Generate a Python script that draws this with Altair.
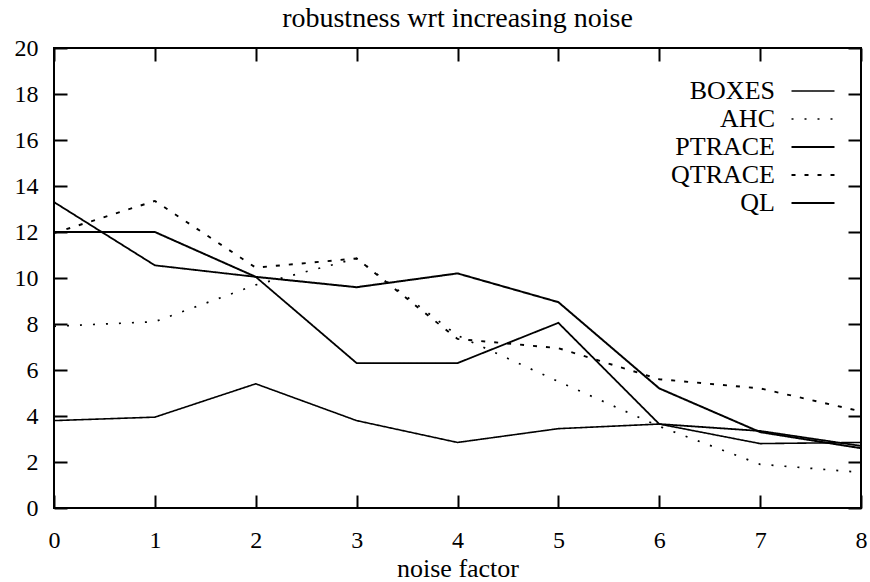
import altair as alt
import pandas as pd

# ---- data ----
noise = [0, 1, 2, 3, 4, 5, 6, 7, 8]
boxes = [3.8, 3.95, 5.4, 3.8, 2.85, 3.45, 3.65, 2.8, 2.85]
ahc = [7.9, 8.1, 9.7, 10.85, 7.5, 5.5, 3.55, 1.9, 1.55]
ptrace = [13.3, 10.55, 10.05, 6.3, 6.3, 8.05, 3.65, 3.35, 2.7]
qtrace = [11.95, 13.35, 10.45, 10.85, 7.35, 6.95, 5.6, 5.2, 4.2]
ql = [12.0, 12.0, 10.05, 9.6, 10.2, 8.95, 5.2, 3.3, 2.6]
series_names = ["BOXES", "AHC", "PTRACE", "QTRACE", "QL"]
x_ticks = [0, 1, 2, 3, 4, 5, 6, 7, 8]
y_ticks = [0, 2, 4, 6, 8, 10, 12, 14, 16, 18, 20]

values = {"BOXES": boxes, "AHC": ahc, "PTRACE": ptrace, "QTRACE": qtrace, "QL": ql}
rows = []
for name in series_names:
    for x, y in zip(noise, values[name]):
        rows.append({"series": name, "noise": x, "value": y})
df = pd.DataFrame(rows)

FONT = "Liberation Serif"

dash_range = [[1, 0], [2, 11], [1, 0], [4, 9], [1, 0]]
width_range = [1.6, 2, 2.4, 4, 4.2]

legend = alt.Legend(
    title=None, orient="none", legendX=746, legendY=30,
    symbolType="M-2,0H2", symbolSize=462, symbolStrokeColor="black",
    labelAlign="right", labelOffset=alt.ExprRef("-51"), labelFont=FONT,
    labelFontSize=26, labelColor="black", labelLimit=0, rowPadding=2, padding=0,
)

xscale = alt.Scale(domain=[0, 8], nice=False)
yscale = alt.Scale(domain=[0, 20], nice=False)
inward = alt.ExprRef("-13")

base = alt.Chart(df)

lines = base.mark_line(color="black", strokeCap="butt").encode(
    x=alt.X("noise:Q", scale=xscale,
            axis=alt.Axis(values=x_ticks, title="noise factor", orient="bottom",
                          tickSize=inward, labelPadding=33, grid=False,
                          labelFlush=False, titlePadding=3, titleFontSize=26)),
    y=alt.Y("value:Q", scale=yscale,
            axis=alt.Axis(values=y_ticks, title=None, orient="left",
                          tickSize=inward, labelPadding=29, grid=False,
                          labelFlush=False)),
    detail="series:N",
    strokeDash=alt.StrokeDash("series:N",
                              scale=alt.Scale(domain=series_names, range=dash_range),
                              sort=series_names, legend=legend),
    strokeWidth=alt.StrokeWidth("series:N",
                                scale=alt.Scale(domain=series_names, range=width_range),
                                sort=series_names, legend=legend),
)

mirror = base.mark_line(opacity=0).encode(
    x=alt.X("noise:Q", scale=xscale,
            axis=alt.Axis(values=x_ticks, title=None, orient="top", labels=False,
                          tickSize=inward, grid=False)),
    y=alt.Y("value:Q", scale=yscale,
            axis=alt.Axis(values=y_ticks, title=None, orient="right", labels=False,
                          tickSize=inward, grid=False)),
    detail="series:N",
)

chart = (
    alt.layer(lines, mirror)
    .resolve_axis(x="independent", y="independent")
    .properties(
        width=807, height=460,
        autosize=alt.AutoSizeParams(type="none"),
        padding={"left": 54, "top": 48, "right": 9, "bottom": 74},
        background="white",
        title=alt.TitleParams("robustness wrt increasing noise", font=FONT,
                              fontSize=28, fontWeight="normal", color="black",
                              anchor="middle", offset=3),
    )
    .configure_view(stroke="black", strokeWidth=2)
    .configure_axis(
        domain=False, tickColor="black", tickWidth=2,
        labelFont=FONT, labelFontSize=24, labelColor="black",
        titleFont=FONT, titleFontSize=26, titleColor="black",
        titleFontWeight="normal",
    )
)

chart.save("out.html", embed_options={"renderer": "svg", "actions": False})
